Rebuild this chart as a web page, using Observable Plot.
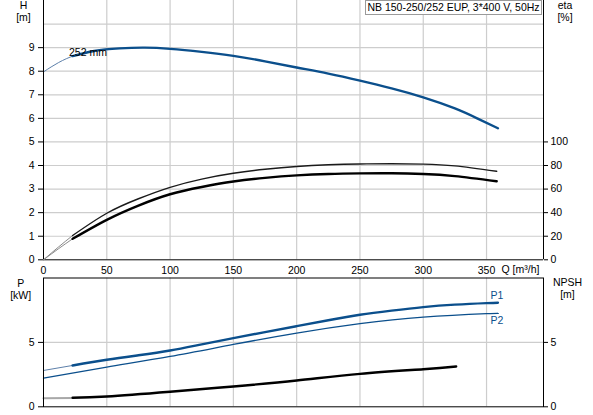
<!DOCTYPE html>
<html><head><meta charset="utf-8">
<script src="https://cdn.jsdelivr.net/npm/d3@7"></script>
<script src="https://cdn.jsdelivr.net/npm/@observablehq/plot@0.6"></script>
<style>
body{margin:0;background:#fff;}
#wrap{position:relative;width:593px;height:415px;overflow:hidden;font-family:"Liberation Sans",Arial,sans-serif;font-size:10.5px;color:#000;}
#wrap svg{position:absolute;left:0;overflow:visible;}
.lbl{position:absolute;text-align:center;line-height:12px;white-space:nowrap;}
#title{position:absolute;left:365px;top:0;width:177px;height:15px;box-sizing:border-box;border:1px solid #9a9a9a;background:#fff;text-align:center;line-height:13px;white-space:nowrap;}
</style></head><body>
<div id="wrap">
</div>
<script>
// ---- tick values ----
const qTicks = [0, 50, 100, 150, 200, 250, 300, 350];
const hTicks = [0, 1, 2, 3, 4, 5, 6, 7, 8, 9];
const hGrid = [1, 2, 3, 4, 5, 6, 7, 8, 9, 10];
const etaTicks = [0, 20, 40, 60, 80, 100];
const pTicks = [0, 5];
const pGrid = [5];
const npshTicks = [0, 5];

// ---- H curve (252 mm) ----
const hLeadQ = [0, 6, 12, 18, 24];
const hLeadH = [7.97, 8.18, 8.37, 8.53, 8.66];
const hQ = [23, 40, 60, 80, 100, 125, 150, 175, 200, 225, 250, 275, 300, 325, 343, 359];
const hH = [8.64, 8.86, 8.97, 9.0, 8.95, 8.82, 8.65, 8.42, 8.16, 7.9, 7.6, 7.27, 6.89, 6.42, 5.99, 5.58];

// ---- efficiency curves ----
const etaLeadQ = [0, 12, 23];
const eta1Lead = [0, 11, 20.6];
const eta2Lead = [0, 9.5, 17.8];
const etaQ = [23, 50, 75, 100, 125, 150, 175, 200, 225, 250, 275, 300, 325, 358];
const eta1 = [20.6, 39.5, 51.8, 61.5, 68.5, 73.4, 76.8, 79.2, 80.6, 81.3, 81.5, 81.2, 79.7, 75.1];
const eta2 = [17.8, 33.9, 46.0, 55.6, 61.8, 66.4, 69.5, 71.6, 72.8, 73.3, 73.4, 72.8, 71.0, 66.6];

// ---- power curves ----
const p1LeadQ = [0, 23];
const p1Lead = [2.82, 3.21];
const p1Q = [23, 50, 75, 100, 125, 150, 175, 200, 225, 250, 275, 300, 325, 350, 359];
const p1 = [3.21, 3.65, 4.0, 4.37, 4.85, 5.33, 5.8, 6.26, 6.72, 7.15, 7.47, 7.74, 7.93, 8.05, 8.08];
const p2Q = [0, 50, 100, 150, 200, 250, 300, 350, 359];
const p2 = [2.22, 3.08, 3.91, 4.84, 5.72, 6.45, 6.96, 7.23, 7.25];

// ---- NPSH ----
const npshLeadQ = [0, 23];
const npshLead = [0.67, 0.68];
const npshQ = [23, 50, 100, 150, 200, 250, 300, 326];
const npsh = [0.70, 0.80, 1.17, 1.58, 2.04, 2.56, 2.92, 3.13];

const zip = (xs, ys) => xs.map((x, i) => ({x, y: ys[i]}));

const BLUE = "#0b4f8c";
const GRID = "#cdcdcd";
const FONT = "Liberation Sans, Arial, sans-serif";
const W = 593;
const xDom = [0, 395];
const ML = 43, MR = 50;
const CURVE = "natural";

const style = {fontFamily: FONT, fontSize: "10.5px", background: "transparent", overflow: "visible", color: "#000"};

// ---- top panel (H) ----
const topH = 276;
const topMB = 16.7;
const hPlot = Plot.plot({
  width: W, height: topH,
  marginLeft: ML, marginRight: MR, marginTop: 0, marginBottom: topMB,
  style,
  x: {domain: xDom},
  y: {domain: [0, 11]},
  marks: [
    Plot.gridX(qTicks.filter(d => d > 0), {stroke: GRID, strokeOpacity: 1, strokeWidth: 1.2}),
    Plot.gridY(hGrid, {stroke: GRID, strokeOpacity: 1, strokeWidth: 1.2}),
    Plot.axisX({ticks: qTicks, tickSize: 0, tickPadding: 7, label: null}),
    Plot.axisY({ticks: hTicks, tickSize: 5, tickPadding: 4, label: null}),
    Plot.line(zip(hLeadQ, hLeadH), {x: "x", y: "y", stroke: "#5d80aa", strokeWidth: 1, curve: CURVE}),
    Plot.line(zip(hQ, hH), {x: "x", y: "y", stroke: BLUE, strokeWidth: 2.4, curve: CURVE}),
    Plot.ruleX([xDom[0], xDom[1]], {stroke: "#000", strokeWidth: 1}),
    Plot.ruleY([0], {stroke: "#000", strokeWidth: 1})
  ]
});
hPlot.style.top = "0px";

// ---- top panel overlay (eta) ----
const etaPlot = Plot.plot({
  width: W, height: topH,
  marginLeft: ML, marginRight: MR, marginTop: 0, marginBottom: topMB,
  style,
  x: {domain: xDom, axis: null},
  y: {domain: [0, 220], axis: null},
  marks: [
    Plot.axisY({anchor: "right", ticks: etaTicks, tickSize: 4, tickPadding: 3, label: null}),
    Plot.line(zip(etaLeadQ, eta1Lead), {x: "x", y: "y", stroke: "#8a8a8a", strokeWidth: 1, curve: CURVE}),
    Plot.line(zip(etaLeadQ, eta2Lead), {x: "x", y: "y", stroke: "#8a8a8a", strokeWidth: 1, curve: CURVE}),
    Plot.line(zip(etaQ, eta1), {x: "x", y: "y", stroke: "#1a1a1a", strokeWidth: 1.4, curve: CURVE}),
    Plot.line(zip(etaQ, eta2), {x: "x", y: "y", stroke: "#000", strokeWidth: 2.4, curve: CURVE})
  ]
});
etaPlot.style.top = "0px";

// ---- bottom panel (P, NPSH) ----
const botTop = 276, botH = 139;
const pPlot = Plot.plot({
  width: W, height: botH,
  marginLeft: ML, marginRight: MR, marginTop: 1.5, marginBottom: 8.7,
  style,
  x: {domain: xDom, axis: null},
  y: {domain: [0, 10], axis: null},
  marks: [
    Plot.gridX(qTicks.filter(d => d > 0), {stroke: GRID, strokeOpacity: 1, strokeWidth: 1.2}),
    Plot.gridY(pGrid, {stroke: GRID, strokeOpacity: 1, strokeWidth: 1.2}),
    Plot.axisY({anchor: "left", ticks: pTicks, tickSize: 5, tickPadding: 4, label: null}),
    Plot.axisY({anchor: "right", ticks: npshTicks, tickSize: 4, tickPadding: 3, label: null}),
    Plot.line(zip(p2Q, p2), {x: "x", y: "y", stroke: BLUE, strokeWidth: 1.3, curve: CURVE}),
    Plot.line(zip(p1LeadQ, p1Lead), {x: "x", y: "y", stroke: "#5d80aa", strokeWidth: 1, curve: CURVE}),
    Plot.line(zip(p1Q, p1), {x: "x", y: "y", stroke: BLUE, strokeWidth: 2.4, curve: CURVE}),
    Plot.line(zip(npshLeadQ, npshLead), {x: "x", y: "y", stroke: "#a8a8a8", strokeWidth: 2, curve: CURVE}),
    Plot.line(zip(npshQ, npsh), {x: "x", y: "y", stroke: "#000", strokeWidth: 2.4, curve: CURVE}),
    Plot.frame({stroke: "#000", strokeWidth: 1})
  ]
});
pPlot.style.top = botTop + "px";

const wrap = document.getElementById("wrap");
wrap.appendChild(hPlot);
wrap.appendChild(etaPlot);
wrap.appendChild(pPlot);

// ---- text labels ----
function addLabel(html, left, topPx, width, extra) {
  const d = document.createElement("div");
  d.className = "lbl";
  d.innerHTML = html;
  d.style.left = left + "px";
  d.style.top = topPx + "px";
  if (width != null) d.style.width = width + "px";
  if (extra) Object.assign(d.style, extra);
  wrap.appendChild(d);
}
addLabel("H<br>[m]", 3.5, -1, 40);
addLabel("eta<br>[%]", 545, -1, 40);
addLabel("P<br>[kW]", 0.7, 277, 40);
addLabel("NPSH<br>[m]", 547.5, 276.3, 40);
addLabel("Q [m³/h]", 501.5, 263, null, {textAlign: "left"});
addLabel("252 mm", 69, 46.3, null, {textAlign: "left"});
addLabel("P1", 490.5, 288.7, null, {textAlign: "left", color: BLUE});
addLabel("P2", 490.5, 313.7, null, {textAlign: "left", color: BLUE});

const titleBox = document.createElement("div");
titleBox.id = "title";
titleBox.textContent = "NB 150-250/252 EUP, 3*400 V, 50Hz";
wrap.appendChild(titleBox);
</script>
</body></html>
